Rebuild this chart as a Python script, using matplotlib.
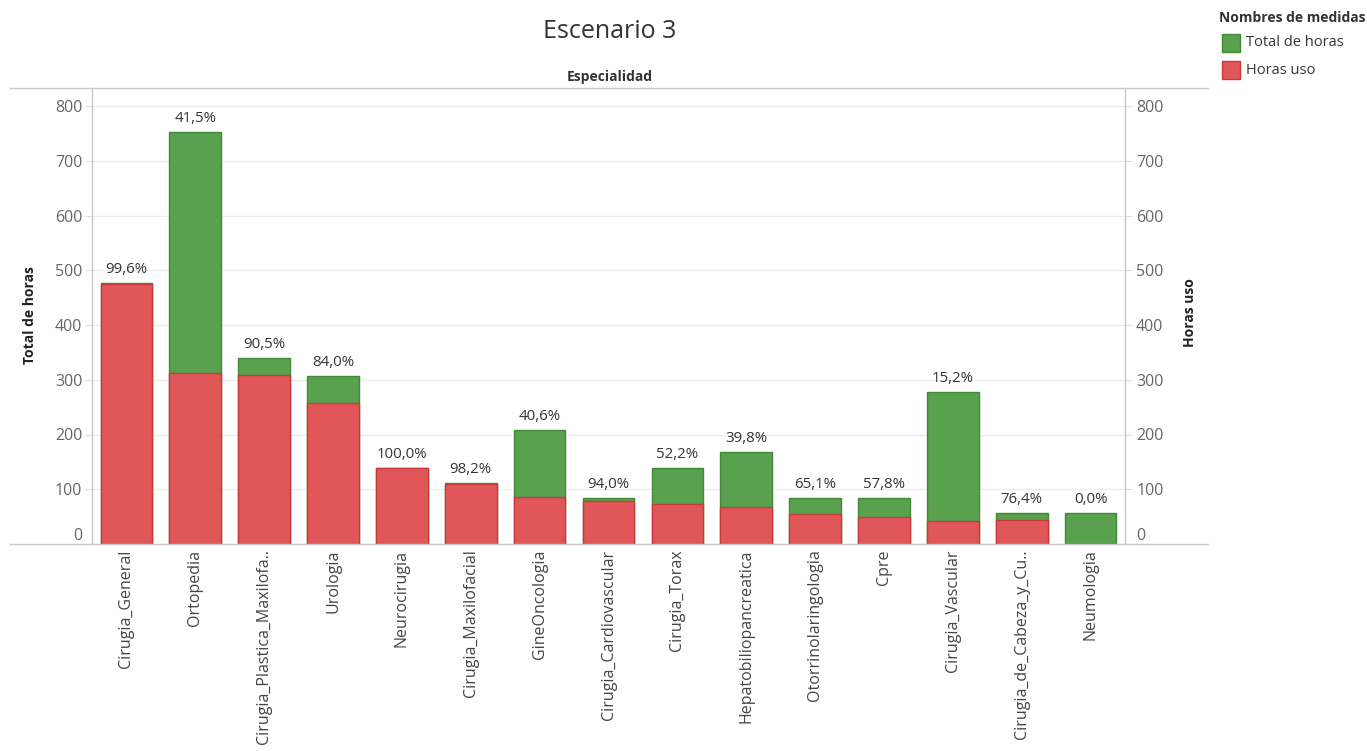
import matplotlib
matplotlib.use("Agg")
import matplotlib.pyplot as plt
from matplotlib.lines import Line2D
from matplotlib.patches import Rectangle

plt.rcParams['font.family'] = ['Open Sans', 'DejaVu Sans']

categories = ["Cirugia_General", "Ortopedia", "Cirugia_Plastica_Maxilofa..", "Urologia",
              "Neurocirugia", "Cirugia_Maxilofacial", "GineOncologia", "Cirugia_Cardiovascular",
              "Cirugia_Torax", "Hepatobiliopancreatica", "Otorrinolaringologia", "Cpre",
              "Cirugia_Vascular", "Cirugia_de_Cabeza_y_Cu..", "Neumologia"]
total_horas = [477, 752, 340, 307, 139, 111, 208, 84, 139, 168, 84, 84, 278, 57, 57]
horas_uso = [475, 312, 308, 258, 139, 109, 85, 79, 73, 67, 55, 49, 42, 43, 0]
pct_labels = ["99,6%", "41,5%", "90,5%", "84,0%", "100,0%", "98,2%", "40,6%", "94,0%",
              "52,2%", "39,8%", "65,1%", "57,8%", "15,2%", "76,4%", "0,0%"]
yticks = [0, 100, 200, 300, 400, 500, 600, 700, 800]

W, H = 1367, 751
fig = plt.figure(figsize=(W / 100, H / 100), dpi=100)

def fx(px):
    return px / W

def fy(py):
    return 1 - py / H

left_px, right_px, top_px, bot_px = 92, 1125, 88, 544
ax = fig.add_axes([fx(left_px), fy(bot_px), fx(right_px - left_px), (bot_px - top_px) / H])

green = "#59A14F"
green_edge = "#3E8A35"
red = "#E15759"
red_edge = "#C8393C"

x = list(range(len(categories)))
ax.bar(x, total_horas, width=0.75, color=green, edgecolor=green_edge, linewidth=1, zorder=2)
ax.bar(x, horas_uso, width=0.75, color=red, edgecolor=red_edge, linewidth=1, zorder=3)
for xi, t, lab in zip(x, total_horas, pct_labels):
    ax.text(xi, t + 11, lab, ha='center', va='bottom', fontsize=10.8, color='#333333', zorder=4)

ymax = (bot_px - top_px) / 54.75 * 100
ax.set_xlim(-0.5, len(categories) - 0.5)
ax.set_ylim(0, ymax)
ax.set_yticks(yticks)
ax.set_yticklabels([str(v) for v in yticks])
ax.yaxis.grid(True, color='#ececec', linewidth=1, zorder=0)
ax.set_axisbelow(True)
for s in ax.spines.values():
    s.set_visible(False)
ax.tick_params(axis='y', length=5, color='#dddddd', labelsize=11.5, labelcolor='#666666', pad=2)
ax.set_xticks(x)
ax.set_xticklabels(categories, rotation=90, fontsize=11.5, color='#444444', va='top', ha='center')
ax.tick_params(axis='x', length=0, pad=4)
ax.get_yticklabels()[0].set_verticalalignment('bottom')

ax2 = ax.twinx()
ax2.set_ylim(0, ymax)
ax2.set_yticks(yticks)
ax2.set_yticklabels([str(v) for v in yticks])
for s in ax2.spines.values():
    s.set_visible(False)
ax2.tick_params(axis='y', length=5, color='#dddddd', labelsize=11.5, labelcolor='#666666', pad=3)
ax2.get_yticklabels()[0].set_verticalalignment('bottom')

# frame lines
lc = '#c8c8c8'
fig.add_artist(Line2D([fx(10), fx(1208)], [fy(top_px), fy(top_px)], color=lc, lw=1))
fig.add_artist(Line2D([fx(10), fx(1208)], [fy(bot_px), fy(bot_px)], color=lc, lw=1))
fig.add_artist(Line2D([fx(left_px), fx(left_px)], [fy(top_px), fy(bot_px)], color=lc, lw=1))
fig.add_artist(Line2D([fx(right_px), fx(right_px)], [fy(top_px), fy(bot_px)], color=lc, lw=1))

# titles
fig.text(fx(610), fy(32), "Escenario 3", ha='center', va='center', fontsize=18, color='#333333')
fig.text(fx(610), fy(77), "Especialidad", ha='center', va='center', fontsize=10,
         fontweight='bold', color='#333333')
fig.text(fx(30), fy(315), "Total de horas", rotation=90, ha='center', va='center',
         fontsize=10, fontweight='bold', color='#222222')
fig.text(fx(1190), fy(313), "Horas uso", rotation=90, ha='center', va='center',
         fontsize=10, fontweight='bold', color='#222222')

# legend
fig.text(fx(1219), fy(18), "Nombres de medidas", ha='left', va='center', fontsize=10,
         fontweight='bold', color='#333333')
for i, (lab, fc, ec) in enumerate([("Total de horas", green, green_edge), ("Horas uso", red, red_edge)]):
    cy = 43 + i * 27
    fig.add_artist(Rectangle((fx(1222), fy(cy + 9)), fx(18), 18 / H, facecolor=fc,
                             edgecolor=ec, lw=1, transform=fig.transFigure))
    fig.text(fx(1246), fy(cy), lab, ha='left', va='center', fontsize=10.5, color='#333333')

fig.savefig("out.png", dpi=100)
